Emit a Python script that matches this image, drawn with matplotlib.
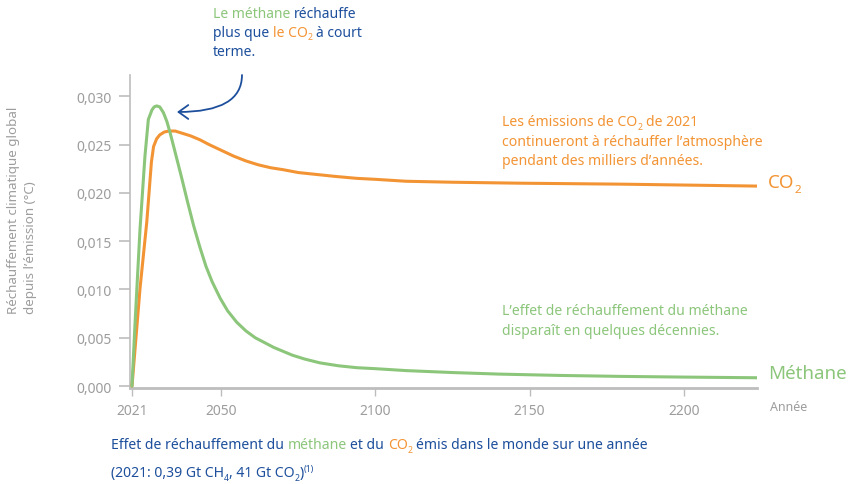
import matplotlib
matplotlib.use("Agg")
import matplotlib.pyplot as plt
from matplotlib.patches import FancyArrowPatch

# ---------------- data ----------------
methane_years = [2021, 2022.0, 2023.6, 2025.2, 2026.3, 2027.5, 2028.2, 2029.0, 2030.0,
                 2031.2, 2032.3, 2033.3, 2035.0, 2037.0, 2039.0, 2041.0, 2043.0,
                 2045.0, 2047.0, 2049.6, 2052.0, 2055.0, 2058.0, 2061.0, 2064.0,
                 2067.0, 2070.0, 2073.0, 2077.0, 2082.0, 2088.0, 2094.0, 2100.0,
                 2110.0, 2125.0, 2140.0, 2160.0, 2180.0, 2200.0, 2224.0]
methane_vals = [0.0, 0.0066, 0.01625, 0.0238, 0.0276, 0.0286, 0.0289, 0.0290, 0.0289,
                0.0283, 0.0274, 0.0263, 0.0242, 0.0217, 0.0191, 0.0166, 0.0144,
                0.0124, 0.0108, 0.0091, 0.0078, 0.0066, 0.0057, 0.0050, 0.0045,
                0.0040, 0.0036, 0.0032, 0.0028, 0.0024, 0.0021, 0.0019, 0.0018,
                0.0016, 0.0014, 0.00124, 0.0011, 0.0010, 0.00093, 0.00086]

co2_years = [2021, 2023.6, 2025.8, 2027.3, 2028.0, 2029.0, 2030.0, 2031.5, 2033.0,
             2035.0, 2037.0, 2040.0, 2043.0, 2046.0, 2050.0, 2054.0, 2058.0, 2062.0,
             2066.0, 2070.0, 2075.0, 2081.0, 2087.0, 2094.0, 2100.0, 2110.0, 2125.0,
             2147.0, 2180.0, 2224.0]
co2_vals = [0.0, 0.0101, 0.0170, 0.0232, 0.0248, 0.0256, 0.0260, 0.0263, 0.0264,
            0.0264, 0.0262, 0.0259, 0.0255, 0.0250, 0.0244, 0.0238, 0.0233, 0.0229,
            0.0226, 0.0224, 0.0221, 0.0219, 0.0217, 0.0215, 0.0214, 0.0212, 0.0211,
            0.0210, 0.0209, 0.0207]

y_ticks = [0.0, 0.005, 0.010, 0.015, 0.020, 0.025, 0.030]
y_tick_labels = ["0,000", "0,005", "0,010", "0,015", "0,020", "0,025", "0,030"]
x_ticks = [2021, 2050, 2100, 2150, 2200]
x_tick_labels = ["2021", "2050", "2100", "2150", "2200"]

# ---------------- style ----------------
GREEN = "#8cc67b"
ORANGE = "#f39434"
BLUE = "#1d4f9c"
GRAY = "#9d9d9d"
AXIS = "#bdbdbd"
FONT = ["Noto Sans", "DejaVu Sans"]

W, H = 850, 485
fig = plt.figure(figsize=(W / 100, H / 100), dpi=100)
fig.patch.set_facecolor("white")

ax = fig.add_axes([130 / W, (H - 389) / H, (757 - 130) / W, (389 - 76) / H])
ax.plot(co2_years, co2_vals, color=ORANGE, lw=2.2, solid_joinstyle="round",
        solid_capstyle="round", zorder=3)
ax.plot(methane_years, methane_vals, color=GREEN, lw=2.2, solid_joinstyle="round",
        solid_capstyle="round", zorder=4)

ax.set_xlim(2020.35, 2223.8)
ax.set_ylim(-0.0002, 0.0322)
ax.set_yticks(y_ticks)
ax.set_yticklabels(y_tick_labels)
ax.set_xticks(x_ticks)
ax.set_xticklabels(x_tick_labels)
for s in ("top", "right"):
    ax.spines[s].set_visible(False)
ax.spines["left"].set_color(AXIS)
ax.spines["left"].set_linewidth(1.2)
ax.spines["bottom"].set_color(AXIS)
ax.spines["bottom"].set_linewidth(2.0)
ax.tick_params(axis="y", colors=AXIS, length=8, width=1.2, pad=5, labelsize=10,
               labelcolor=GRAY)
ax.tick_params(axis="x", colors=AXIS, length=6, width=1.0, pad=5, labelsize=10,
               labelcolor=GRAY)
for lab in ax.get_xticklabels() + ax.get_yticklabels():
    lab.set_family(FONT)

renderer = fig.canvas.get_renderer()


def text_width(s, size):
    t = fig.text(0, 0, s, fontsize=size, family=FONT)
    w = t.get_window_extent(renderer=renderer).width
    t.remove()
    return w


def rich(x, y, segs, size):
    """Draw consecutive coloured segments; y is the baseline in px from top."""
    cx = x
    for seg in segs:
        s, c = seg[0], seg[1]
        kind = seg[2] if len(seg) > 2 else None
        fs = size * 0.62 if kind else size
        dy = 0
        if kind == "sub":
            dy = size * 0.35
        elif kind == "sup":
            dy = -size * 0.5
        sp = text_width("a a", fs) - text_width("aa", fs)
        lead = len(s) - len(s.lstrip(" "))
        trail = len(s) - len(s.rstrip(" "))
        core = s.strip(" ")
        cx += lead * sp
        if core:
            t = fig.text(cx / W, 1 - (y + dy) / H, core, color=c, fontsize=fs,
                         family=FONT, ha="left", va="baseline")
            cx += t.get_window_extent(renderer=renderer).width
        cx += trail * sp
    return cx


# top annotation
fs_note = 10.0
rich(213, 18, [("Le méthane ", GREEN), ("réchauffe", BLUE)], fs_note)
rich(213, 37, [("plus que ", BLUE), ("le CO", ORANGE), ("2", ORANGE, "sub"),
               (" à court", BLUE)], fs_note)
rich(213, 56, [("terme.", BLUE)], fs_note)

# CO2 note
fs_side = 10.1
rich(502, 126, [("Les émissions de CO", ORANGE), ("2", ORANGE, "sub"),
                (" de 2021", ORANGE)], fs_side)
rich(502, 145.5, [("continueront à réchauffer l’atmosphère", ORANGE)], fs_side)
rich(502, 165, [("pendant des milliers d’années.", ORANGE)], fs_side)

# methane note
rich(502, 315, [("L’effet de réchauffement du méthane", GREEN)], fs_side)
rich(502, 335, [("disparaît en quelques décennies.", GREEN)], fs_side)

# big series labels
rich(768, 188, [("CO", ORANGE), ("2", ORANGE, "sub")], 13.5)
rich(768, 379, [("Méthane", GREEN)], 13.5)

# axis title x
rich(770, 411, [("Année", GRAY)], 9)

# y axis title
fig.text(22 / W, 1 - 314 / H, "Réchauffement climatique global\ndepuis l’émission (°C)",
         rotation=90, color=GRAY, fontsize=9.6, family=FONT, ha="center",
         va="bottom", multialignment="left", linespacing=1.35)

# caption
fs_cap = 10.1
rich(111, 449, [("Effet de réchauffement du ", BLUE), ("méthane", GREEN),
                (" et du ", BLUE), ("CO", ORANGE), ("2", ORANGE, "sub"),
                (" émis dans le monde sur une année", BLUE)], fs_cap)
rich(111, 477, [("(2021: 0,39 Gt CH", BLUE), ("4", BLUE, "sub"),
                (", 41 Gt CO", BLUE), ("2", BLUE, "sub"), (")", BLUE),
                ("(1)", BLUE, "sup")], fs_cap)

# curved arrow
arrow = FancyArrowPatch((242 / W, 1 - 76 / H), (177 / W, 1 - 113 / H),
                        transform=fig.transFigure,
                        connectionstyle="angle3,angleA=90,angleB=0",
                        arrowstyle="->,head_length=7,head_width=5",
                        color=BLUE, lw=1.3, mutation_scale=1.0,
                        shrinkA=0, shrinkB=0)
fig.patches.append(arrow)

fig.savefig("out.png", dpi=100, facecolor="white")
